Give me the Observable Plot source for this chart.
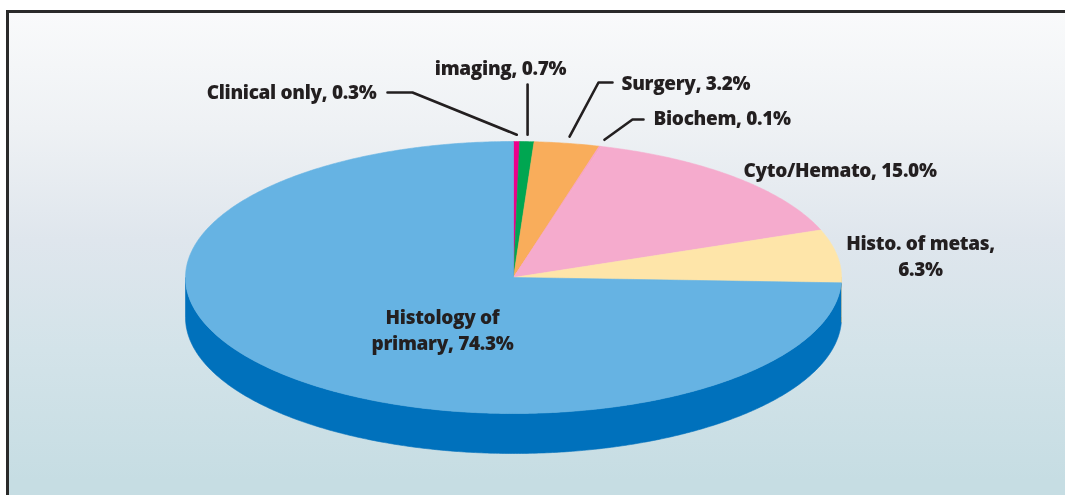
<!DOCTYPE html>
<html>
<head>
<meta charset="utf-8">
<script src="https://cdn.jsdelivr.net/npm/d3@7"></script>
<script src="https://cdn.jsdelivr.net/npm/@observablehq/plot@0.6"></script>
<style>
  html, body { margin: 0; padding: 0; overflow: hidden; }
  #bg {
    position: fixed; left: 9px; top: 13px; right: 0; bottom: 0;
    background: linear-gradient(to bottom, #f9fafb 0%, #eef1f4 24%, #dfe6ed 47%, #d3e3e9 70%, #c6dde3 97%);
  }
  #lineTop { position: fixed; left: 6px; top: 10px; right: 0; height: 3px; background: #2a2a2a; }
  #lineLeft { position: fixed; left: 6px; top: 10px; width: 3px; bottom: 0; background: #2a2a2a; }
  #chart { position: absolute; left: 0; top: 0; }
  #chart svg text { letter-spacing: -0.32px; }
</style>
</head>
<body>
<div id="bg"></div>
<div id="lineTop"></div>
<div id="lineLeft"></div>
<div id="chart"></div>
<script>
// ---- data ----
const categories = ["Clinical only", "imaging", "Surgery", "Biochem", "Cyto/Hemato", "Histo. of metas", "Histology of primary"];
const values = [0.3, 0.7, 3.2, 0.1, 15.0, 6.3, 74.3];
const labels = ["Clinical only, 0.3%", "imaging, 0.7%", "Surgery, 3.2%", "Biochem, 0.1%", "Cyto/Hemato, 15.0%", "Histo. of metas,\n6.3%", "Histology of\nprimary, 74.3%"];

// ---- styles ----
const topColors  = ["#ec008c", "#00a651", "#f9ad5b", "#f7a3c4", "#f5abcd", "#fee5a9", "#66b3e3"];
const sideColors = ["#b0006a", "#007a3c", "#c98439", "#c57a9c", "#c57a9c", "#d8bd7c", "#0071bc"];

// ---- layout (pixels) ----
const W = 1065, H = 495;
const CX = 513, CY = 277, RX = 328, RY = 136, DEPTH = 40;
// label anchor + leader elbows in pixels
const labelLayout = [
  {x: 376, y: 98,  anchor: "end",    leader: [[412, 92], [387, 92]]},
  {x: 500, y: 74,  anchor: "middle", leader: [[null, 84]]},
  {x: 621, y: 89,  anchor: "start",  leader: [[598, 82], [612, 82]]},
  {x: 653, y: 124, anchor: "start",  leader: [[632, 119], [643, 119]]},
  {x: 743, y: 176, anchor: "start",  leader: null},
  {x: 920, y: 275, anchor: "middle", leader: null},
  {x: 442, y: 349, anchor: "middle", leader: null}
];
const px2x = (p) => (p - CX) / RX;
const py2y = (p) => (CY - p) / RY;

// ---- geometry from data ----
const total = d3.sum(values);
const cum = d3.cumsum(values);
const slices = values.map((v, i) => ({
  i,
  a0: ((cum[i] - v) / total) * 2 * Math.PI,
  a1: (cum[i] / total) * 2 * Math.PI
}));

function arcPoints(a0, a1, dy = 0) {
  const n = Math.max(2, Math.ceil((a1 - a0) / (Math.PI / 360)));
  const pts = [];
  for (let k = 0; k <= n; k++) {
    const a = a0 + (a1 - a0) * k / n;
    pts.push({x: Math.sin(a), y: Math.cos(a) + dy});
  }
  return pts;
}

const depthU = DEPTH / RY;
const marks = [];

// side walls (front half: angles PI/2 .. 3PI/2)
slices.forEach(s => {
  const lo = Math.max(s.a0, Math.PI / 2), hi = Math.min(s.a1, 3 * Math.PI / 2);
  if (hi <= lo) return;
  const top = arcPoints(lo, hi, 0);
  const bot = arcPoints(lo, hi, -depthU).reverse();
  const poly = top.concat(bot);
  marks.push(Plot.line(poly, {x: "x", y: "y", fill: sideColors[s.i], stroke: sideColors[s.i], strokeWidth: 0.6, curve: "linear"}));
});

// top faces
slices.forEach(s => {
  const poly = [{x: 0, y: 0}].concat(arcPoints(s.a0, s.a1, 0), [{x: 0, y: 0}]);
  marks.push(Plot.line(poly, {x: "x", y: "y", fill: topColors[s.i], stroke: topColors[s.i], strokeWidth: 0.6, curve: "linear"}));
});

// leader lines: from slice edge (mid angle, slightly outside) to elbows
slices.forEach(s => {
  const L = labelLayout[s.i];
  if (!L.leader) return;
  const am = (s.a0 + s.a1) / 2;
  const start = {x: 1.05 * Math.sin(am), y: 1.05 * Math.cos(am)};
  const pts = [start].concat(L.leader.map(([px, py]) => ({x: px == null ? start.x : px2x(px), y: py2y(py)})));
  marks.push(Plot.line(pts, {x: "x", y: "y", stroke: "#231f20", strokeWidth: 2.6, fill: "none", curve: "linear"}));
});

// labels
const labelRows = labels.map((t, i) => ({text: t, x: px2x(labelLayout[i].x), y: py2y(labelLayout[i].y), anchor: labelLayout[i].anchor}));
["start", "middle", "end"].forEach(anchor => {
  marks.push(Plot.text(labelRows.filter(d => d.anchor === anchor), {
    x: "x", y: "y", text: "text",
    textAnchor: anchor, lineAnchor: "bottom", lineHeight: 1.33,
    fontSize: 19, fontWeight: 800, fontFamily: "'Open Sans', sans-serif",
    fill: "#231f20"
  }));
});

const chart = Plot.plot({
  width: W, height: H, margin: 0,
  x: {domain: [px2x(0), px2x(W)], axis: null},
  y: {domain: [py2y(H), py2y(0)], axis: null},
  style: {background: "transparent", overflow: "visible"},
  marks
});
document.getElementById("chart").appendChild(chart);
</script>
</body>
</html>
